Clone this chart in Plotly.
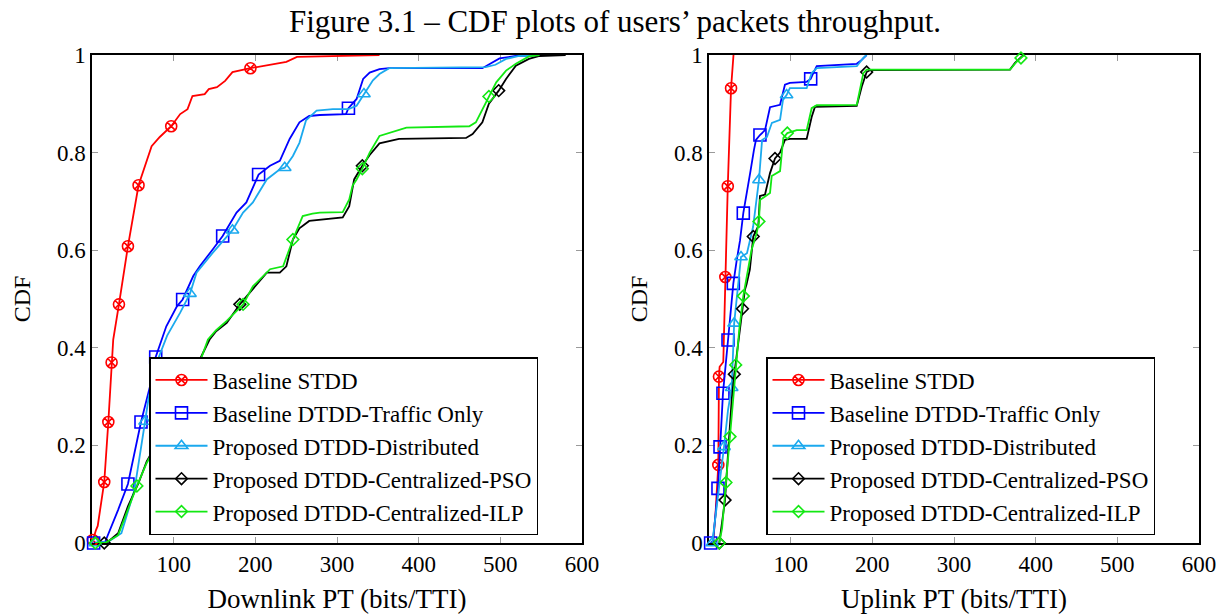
import plotly.graph_objects as go

# ---------------- series metadata ----------------
names = [
    "Baseline STDD",
    "Baseline DTDD-Traffic Only",
    "Proposed DTDD-Distributed",
    "Proposed DTDD-Centralized-PSO",
    "Proposed DTDD-Centralized-ILP",
]

# ---------------- downlink packet throughput (bits/TTI) ----------------
dl_stdd_x = [0, 1, 5, 7, 11, 15, 20, 24, 26, 33, 44, 57, 73, 83, 97, 108, 117, 123, 138, 143,
             153, 163, 172, 194, 238, 251, 312, 352]
dl_stdd_y = [0, 0.006, 0.027, 0.035, 0.078, 0.125, 0.248, 0.37, 0.417, 0.489, 0.608, 0.733, 0.813,
             0.832, 0.854, 0.879, 0.889, 0.916, 0.92, 0.93, 0.934, 0.947, 0.965, 0.973, 0.986,
             0.996, 0.999, 1.0]
dl_stdd_marks = [1, 5, 6, 7, 9, 10, 11, 14, 23]

dl_traffic_x = [2, 16, 32, 44, 60, 67, 71, 78, 91, 104, 111, 124, 132, 148, 160, 177, 189, 204,
                218, 230, 242, 254, 266, 279, 311, 314, 324, 332, 340, 352, 364, 478, 491, 499,
                519, 548]
dl_traffic_y = [0, 0.002, 0.068, 0.121, 0.248, 0.294, 0.321, 0.381, 0.444, 0.485, 0.499, 0.547,
                0.567, 0.602, 0.629, 0.677, 0.698, 0.755, 0.773, 0.783, 0.828, 0.862, 0.875,
                0.877, 0.879, 0.891, 0.91, 0.951, 0.964, 0.971, 0.973, 0.973, 0.985, 0.993,
                0.998, 1.0]
dl_traffic_marks = [0, 3, 4, 7, 10, 14, 17, 25]

dl_distr_x = [4, 20, 36, 52, 65, 69, 79, 92, 108, 120, 128, 148, 172, 185, 197, 214, 230, 236,
              246, 254, 262, 275, 295, 314, 324, 333, 344, 352, 364, 482, 494, 507, 523, 548]
dl_distr_y = [0, 0.003, 0.02, 0.109, 0.249, 0.294, 0.369, 0.425, 0.472, 0.511, 0.554, 0.595,
              0.641, 0.677, 0.698, 0.745, 0.766, 0.769, 0.793, 0.82, 0.866, 0.886, 0.889, 0.889,
              0.896, 0.92, 0.948, 0.961, 0.973, 0.975, 0.98, 0.992, 0.998, 1.0]
dl_distr_marks = [0, 4, 9, 12, 17, 25]

dl_pso_x = [15, 20, 32, 44, 57, 67, 95, 120, 134, 144, 152, 165, 181, 197, 214, 230, 238, 246,
            254, 266, 307, 315, 321, 331, 340, 352, 376, 458, 466, 478, 486, 498, 507, 519, 535,
            548, 580]
dl_pso_y = [0, 0.003, 0.02, 0.075, 0.123, 0.167, 0.25, 0.335, 0.38, 0.417, 0.434, 0.451, 0.489,
            0.52, 0.554, 0.554, 0.567, 0.622, 0.645, 0.66, 0.667, 0.69, 0.745, 0.773, 0.795,
            0.819, 0.828, 0.83, 0.838, 0.862, 0.9, 0.927, 0.951, 0.978, 0.992, 0.998, 1.0]
dl_pso_marks = [0, 12, 23, 31]

dl_ilp_x = [4, 16, 32, 44, 55, 67, 95, 120, 134, 142, 152, 165, 185, 197, 218, 234, 246, 258,
            270, 279, 307, 315, 319, 324, 331, 340, 352, 385, 462, 470, 478, 486, 495, 507, 519,
            535, 548]
dl_ilp_y = [0, 0, 0.016, 0.07, 0.117, 0.164, 0.25, 0.335, 0.38, 0.417, 0.436, 0.455, 0.489,
            0.526, 0.561, 0.567, 0.622, 0.67, 0.675, 0.677, 0.678, 0.704, 0.732, 0.745, 0.767,
            0.8, 0.834, 0.851, 0.854, 0.862, 0.889, 0.915, 0.944, 0.968, 0.982, 0.997, 1.0]
dl_ilp_marks = [0, 4, 12, 16, 24, 31]

# ---------------- uplink packet throughput (bits/TTI) ----------------
ul_stdd_x = [5, 8, 10, 11.4, 12.2, 13, 17.5, 20, 23, 27, 30]
ul_stdd_y = [0, 0.06, 0.12, 0.16, 0.341, 0.361, 0.371, 0.545, 0.731, 0.932, 1.0]
ul_stdd_marks = [3, 4, 7, 8, 9]

ul_traffic_x = [2, 4.9, 11, 13.5, 17.1, 23.3, 27, 29.8, 34, 38, 42, 46, 51, 55, 57.5, 62.4, 68.6,
                74.7, 87, 93, 99, 119.6, 124.5, 127.7, 131.9, 180.9, 187, 193]
ul_traffic_y = [0, 0.004, 0.112, 0.197, 0.307, 0.416, 0.477, 0.532, 0.58, 0.62, 0.676, 0.713,
                0.764, 0.805, 0.826, 0.836, 0.846, 0.893, 0.898, 0.939, 0.943, 0.945, 0.951,
                0.963, 0.977, 0.982, 0.99, 1.0]
ul_traffic_marks = [0, 2, 3, 4, 5, 7, 10, 15, 22]

ul_distr_x = [4, 11, 18.4, 23.3, 27.8, 30.8, 34, 39.2, 46.5, 54, 61.2, 65, 71, 77, 87, 90.6, 95,
              99, 119.6, 125.7, 132, 181, 189, 193]
ul_distr_y = [0, 0.094, 0.197, 0.273, 0.318, 0.45, 0.498, 0.586, 0.594, 0.648, 0.744, 0.826,
              0.832, 0.861, 0.867, 0.908, 0.918, 0.932, 0.932, 0.963, 0.973, 0.977, 0.994, 1.0]
ul_distr_marks = [0, 2, 4, 5, 7, 10, 16]

ul_pso_x = [12.6, 17.5, 19.6, 23.6, 27.8, 31, 35.9, 41, 44, 46, 50, 54.2, 58, 60.4, 62.4, 68.6,
            74.7, 80.8, 87, 93, 99, 119.6, 125.7, 129.8, 180.9, 187, 193, 197, 368.6, 374.7, 385]
ul_pso_y = [0, 0.068, 0.088, 0.191, 0.294, 0.346, 0.416, 0.48, 0.519, 0.53, 0.56, 0.628, 0.64,
            0.65, 0.711, 0.714, 0.758, 0.788, 0.8, 0.826, 0.828, 0.828, 0.873, 0.894, 0.896,
            0.935, 0.965, 0.969, 0.97, 0.984, 1.0]
ul_pso_marks = [0, 2, 5, 7, 11, 17, 26]

ul_ilp_x = [12.6, 16, 20.8, 25.7, 29.8, 32.7, 37, 42, 48, 52, 58.4, 61.2, 62.4, 70, 74.7, 76.8,
            87, 91, 95.9, 107.4, 119.6, 125.7, 131.9, 181, 189, 193, 368.6, 376, 382, 386]
ul_ilp_y = [0, 0.03, 0.124, 0.218, 0.294, 0.365, 0.437, 0.506, 0.566, 0.6, 0.635, 0.659, 0.703,
            0.712, 0.717, 0.752, 0.762, 0.83, 0.84, 0.846, 0.846, 0.891, 0.897, 0.898, 0.963,
            0.97, 0.97, 0.985, 0.994, 1.0]
ul_ilp_marks = [0, 2, 3, 5, 7, 11, 18, 28]

x_ticks = [100, 200, 300, 400, 500, 600]
y_ticks = [0, 0.2, 0.4, 0.6, 0.8, 1]

# ---------------- styling ----------------
colors = ["#ff0000", "#0000ff", "#1ba9ee", "#000000", "#12e812"]
symbols = ["circle-x-open", "square-open", "triangle-up-open", "diamond-open", "diamond-open"]
msizes = [11, 12, 11, 9, 9]
FONT = "Liberation Serif, Times New Roman, serif"

downlink = [
    (dl_stdd_x, dl_stdd_y, dl_stdd_marks),
    (dl_traffic_x, dl_traffic_y, dl_traffic_marks),
    (dl_distr_x, dl_distr_y, dl_distr_marks),
    (dl_pso_x, dl_pso_y, dl_pso_marks),
    (dl_ilp_x, dl_ilp_y, dl_ilp_marks),
]
uplink = [
    (ul_stdd_x, ul_stdd_y, ul_stdd_marks),
    (ul_traffic_x, ul_traffic_y, ul_traffic_marks),
    (ul_distr_x, ul_distr_y, ul_distr_marks),
    (ul_pso_x, ul_pso_y, ul_pso_marks),
    (ul_ilp_x, ul_ilp_y, ul_ilp_marks),
]

fig = go.Figure()


def add_panel(series, xa, ya, legend_id, tag):
    for i, (xs, ys, marks) in enumerate(series):
        line = dict(color=colors[i], width=1.8)
        marker = dict(symbol=symbols[i], size=msizes[i], color=colors[i],
                      line=dict(color=colors[i], width=1.6))
        fig.add_trace(go.Scatter(x=xs, y=ys, mode="lines", line=line, xaxis=xa, yaxis=ya,
                                 showlegend=False, hoverinfo="skip"))
        fig.add_trace(go.Scatter(x=[xs[k] for k in marks], y=[ys[k] for k in marks],
                                 mode="markers", marker=marker, xaxis=xa, yaxis=ya,
                                 cliponaxis=False, showlegend=False))
        # legend entry showing line + marker
        fig.add_trace(go.Scatter(x=[None], y=[None], mode="lines+markers", name=names[i],
                                 line=line, marker=marker, xaxis=xa, yaxis=ya,
                                 legend=legend_id, legendgroup=f"{tag}{i}"))


add_panel(downlink, "x", "y", "legend", "dl")
add_panel(uplink, "x2", "y2", "legend2", "ul")

axis_common = dict(
    range=[0, 600], showgrid=False, zeroline=False, showline=True, mirror="allticks",
    linecolor="black", linewidth=1.5, ticks="inside", ticklen=6, tickwidth=1,
    tickcolor="#9a9a9a", layer="below traces", automargin=False,
    tickfont=dict(family=FONT, size=23, color="black"),
)
yaxis_common = dict(axis_common, range=[0, 1], tickvals=y_ticks)
xaxis_common = dict(axis_common, tickvals=x_ticks)

legend_common = dict(
    xanchor="left", yanchor="top", y=(614 - 357) / 614, bgcolor="white", bordercolor="black",
    borderwidth=1.5, font=dict(family=FONT, size=23, color="black"),
    traceorder="grouped", tracegroupgap=0, itemwidth=52,
)

fig.update_layout(
    width=1230, height=614,
    margin=dict(l=0, r=0, t=0, b=0),
    paper_bgcolor="white", plot_bgcolor="white",
    font=dict(family=FONT, color="black"),
    title=dict(text="Figure 3.1 – CDF plots of users’ packets throughput.",
               x=0.5, xanchor="center", y=0.965, yanchor="middle", yref="container",
               font=dict(family=FONT, size=31, color="black")),
    xaxis=dict(xaxis_common, domain=[92 / 1230, 582 / 1230], anchor="y",
               title=dict(text="Downlink PT (bits/TTI)", standoff=14,
                          font=dict(family=FONT, size=27))),
    yaxis=dict(yaxis_common, domain=[71 / 614, 559 / 614], anchor="x",
               title=dict(text="CDF", standoff=20, font=dict(family=FONT, size=24))),
    xaxis2=dict(xaxis_common, domain=[709 / 1230, 1199 / 1230], anchor="y2",
                title=dict(text="Uplink PT (bits/TTI)", standoff=14,
                           font=dict(family=FONT, size=27))),
    yaxis2=dict(yaxis_common, domain=[71 / 614, 559 / 614], anchor="x2",
                title=dict(text="CDF", standoff=20, font=dict(family=FONT, size=24))),
    legend=dict(legend_common, x=149 / 1230),
    legend2=dict(legend_common, x=766 / 1230),
)

fig.write_html("out.html")
